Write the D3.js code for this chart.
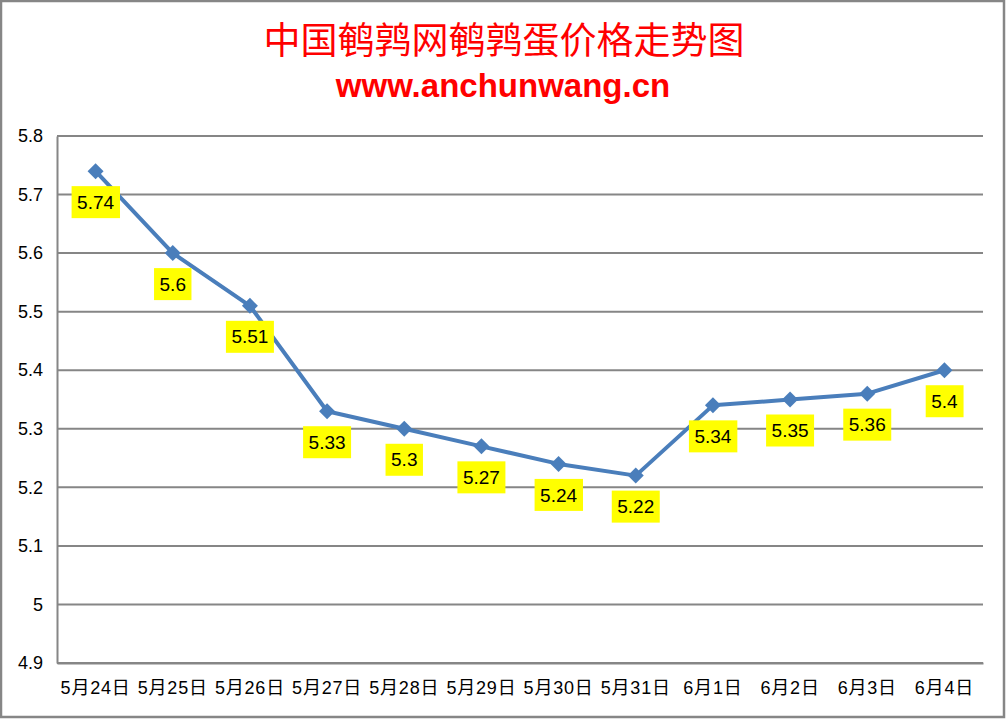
<!DOCTYPE html>
<html><head><meta charset="utf-8">
<script src="https://cdn.jsdelivr.net/npm/d3@7"></script>
<style>html,body{margin:0;padding:0;background:#fff;}</style>
</head><body>
<svg id="c" width="1007" height="719"></svg>
<script>
const categories = ["5月24日","5月25日","5月26日","5月27日","5月28日","5月29日","5月30日","5月31日","6月1日","6月2日","6月3日","6月4日"];
const prices = [5.74, 5.6, 5.51, 5.33, 5.3, 5.27, 5.24, 5.22, 5.34, 5.35, 5.36, 5.4];
const yTicks = [4.9, 5, 5.1, 5.2, 5.3, 5.4, 5.5, 5.6, 5.7, 5.8];
const titleText = "中国鹌鹑网鹌鹑蛋价格走势图";
const subtitleText = "www.anchunwang.cn";

const svg = d3.select("#c");
const W = 1007, H = 719;
const m = {left: 57, right: 983, top: 136, bottom: 663};
const font = "'Liberation Sans','Noto Sans CJK SC',sans-serif";
const grid = "#868686";

svg.append("rect").attr("x", 1).attr("y", 1).attr("width", W - 4).attr("height", H - 3)
  .attr("fill", "#fff").attr("stroke", grid).attr("stroke-width", 2.5);

const x = d3.scaleBand().domain(categories).range([m.left, m.right]);
const y = d3.scaleLinear().domain([4.9, 5.8]).range([m.bottom, m.top]);

// gridlines
svg.append("g").selectAll("line").data(yTicks).join("line")
  .attr("x1", m.left).attr("x2", m.right)
  .attr("y1", d => y(d)).attr("y2", d => y(d))
  .attr("stroke", grid).attr("stroke-width", 2);

// y axis
const yAxis = svg.append("g").attr("transform", `translate(${m.left},0)`)
  .call(d3.axisLeft(y).tickValues(yTicks).tickSize(0).tickPadding(14).tickFormat(d => String(+d.toFixed(1))));
yAxis.select(".domain").attr("stroke", grid).attr("stroke-width", 2);
yAxis.selectAll("text").attr("font-family", font).attr("font-size", 18).attr("fill", "#000");

// x axis
const xAxis = svg.append("g").attr("transform", `translate(0,${m.bottom})`)
  .call(d3.axisBottom(x).tickSize(0).tickPadding(18));
xAxis.select(".domain").attr("stroke", grid).attr("stroke-width", 2);
xAxis.selectAll("text").attr("font-family", font).attr("font-size", 18).attr("letter-spacing", 0.8).attr("fill", "#000");

// line
const cx = (d, i) => x(categories[i]) + x.bandwidth() / 2;
svg.append("path").datum(prices)
  .attr("fill", "none").attr("stroke", "#4a7ebb").attr("stroke-width", 4)
  .attr("stroke-linejoin", "round")
  .attr("d", d3.line().x(cx).y(d => y(d)));

// markers
svg.append("g").selectAll("path").data(prices).join("path")
  .attr("transform", (d, i) => `translate(${cx(d, i)},${y(d)})`)
  .attr("d", "M0,-8L8,0L0,8L-8,0Z")
  .attr("fill", "#4a7ebb");

// data labels
const lg = svg.append("g").selectAll("g").data(prices).join("g")
  .attr("transform", (d, i) => `translate(${cx(d, i)},${y(d) + 31})`);
lg.append("text").text(d => String(d))
  .attr("font-family", font).attr("font-size", 19).attr("fill", "#000")
  .attr("text-anchor", "middle").attr("dy", "0.35em");
lg.each(function() {
  const g = d3.select(this);
  const bb = g.select("text").node().getBBox();
  g.insert("rect", "text").attr("x", bb.x - 5.5).attr("y", -16).attr("width", bb.width + 11).attr("height", 32)
    .attr("fill", "#ffff00");
});

// titles
svg.append("text").text(titleText).attr("x", 504).attr("y", 38)
  .attr("text-anchor", "middle").attr("dominant-baseline", "central")
  .attr("font-family", "'Noto Sans CJK SC',sans-serif").attr("font-size", 37).attr("fill", "#ff0000");
svg.append("text").text(subtitleText).attr("x", 503).attr("y", 97)
  .attr("text-anchor", "middle")
  .attr("font-family", "'Liberation Sans',sans-serif").attr("font-weight", "bold").attr("font-size", 33).attr("fill", "#ff0000");
</script>
</body></html>
